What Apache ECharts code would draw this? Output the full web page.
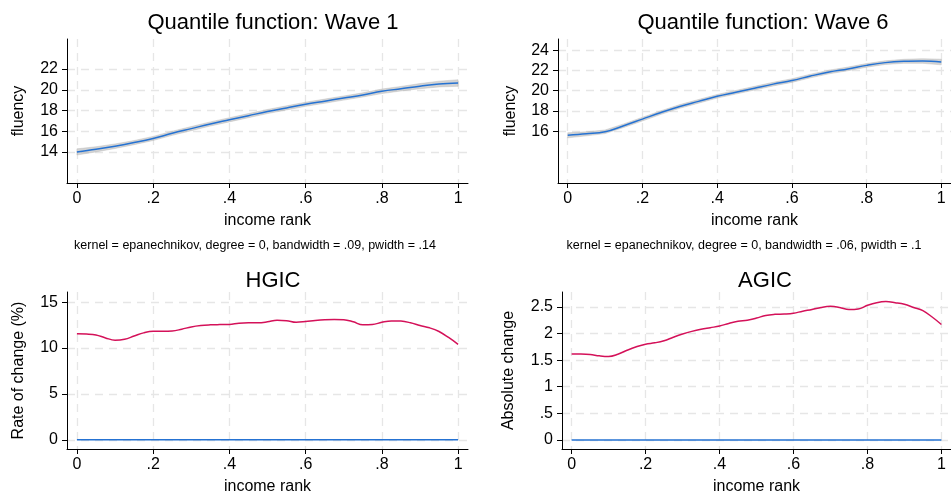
<!DOCTYPE html>
<html>
<head>
<meta charset="utf-8">
<script src="https://cdn.jsdelivr.net/npm/echarts@6/dist/echarts.min.js"></script>
<style>html,body{margin:0;padding:0;background:#fff;}#c{width:951px;height:496px;}</style>
</head>
<body>
<div id="c"></div>
<script>
// ---- data ----
const rankCoarse = [0,0.05,0.1,0.15,0.2,0.25,0.3,0.35,0.4,0.45,0.5,0.55,0.6,0.65,0.7,0.75,0.8,0.85,0.9,0.95,1];
const wave1Fluency = [14.0,14.25,14.55,14.9,15.3,15.8,16.25,16.7,17.1,17.5,17.9,18.25,18.6,18.9,19.2,19.5,19.85,20.1,20.35,20.55,20.65];
const wave1Low  = [13.7,14.0,14.33,14.7,15.1,15.6,16.05,16.5,16.9,17.3,17.7,18.05,18.4,18.7,19.0,19.3,19.63,19.88,20.1,20.27,20.33];
const wave1High = [14.3,14.5,14.77,15.1,15.5,16.0,16.45,16.9,17.3,17.7,18.1,18.45,18.8,19.1,19.4,19.7,20.07,20.32,20.6,20.83,20.97];
const wave6Fluency = [15.6,15.75,15.95,16.55,17.2,17.85,18.45,18.95,19.45,19.85,20.25,20.65,21.0,21.45,21.85,22.15,22.5,22.77,22.9,22.93,22.83];
const wave6Low  = [15.35,15.55,15.77,16.37,17.02,17.67,18.27,18.77,19.27,19.67,20.07,20.47,20.82,21.27,21.67,21.97,22.32,22.59,22.7,22.7,22.55];
const wave6High = [15.85,15.95,16.13,16.73,17.38,18.03,18.63,19.13,19.63,20.03,20.43,20.83,21.18,21.63,22.03,22.33,22.68,22.95,23.1,23.16,23.11];

const rankFine = [0,0.025,0.05,0.075,0.1,0.125,0.15,0.175,0.2,0.225,0.25,0.275,0.3,0.325,0.35,0.375,0.4,0.425,0.45,0.475,0.5,0.525,0.55,0.575,0.6,0.625,0.65,0.675,0.7,0.725,0.75,0.775,0.8,0.825,0.85,0.875,0.9,0.925,0.95,0.975,1];
const hgic = [11.55,11.52,11.42,11.1,10.85,10.95,11.3,11.65,11.82,11.82,11.85,12.05,12.3,12.45,12.52,12.55,12.57,12.7,12.75,12.75,12.85,13.02,12.98,12.8,12.88,13.0,13.08,13.1,13.08,12.85,12.52,12.55,12.8,12.95,12.93,12.75,12.45,12.2,11.8,11.15,10.4];
const agic = [1.617,1.615,1.605,1.58,1.568,1.61,1.685,1.75,1.80,1.825,1.864,1.93,1.99,2.04,2.08,2.11,2.14,2.19,2.23,2.25,2.29,2.34,2.36,2.365,2.38,2.42,2.45,2.49,2.51,2.49,2.45,2.46,2.53,2.58,2.60,2.58,2.55,2.49,2.43,2.31,2.17];
const refX = [0,1];
const refY = [0,0];

const xTicks = [0,0.2,0.4,0.6,0.8,1];
const yTicksW1 = [14,16,18,20,22];
const yTicksW6 = [16,18,20,22,24];
const yTicksHGIC = [0,5,10,15];
const yTicksAGIC = [0,0.5,1,1.5,2,2.5];

const titles = ['Quantile function: Wave 1','Quantile function: Wave 6','HGIC','AGIC'];
const notes = ['kernel = epanechnikov, degree = 0, bandwidth = .09, pwidth = .14','kernel = epanechnikov, degree = 0, bandwidth = .06, pwidth = .1'];

// ---- chart ----
const BLUE = '#2572d2', PINK = '#d41159', FONT = '"Liberation Sans", Arial, Helvetica, sans-serif';
const fmt = v => { let s = String(Math.round(v*1000)/1000); return s.replace(/^0\./,'.'); };
const pairs = (xs, ys) => xs.map((x,i)=>[x, ys[i]]);

function xAx(gi){
  return {type:'value', gridIndex:gi, min:-0.026, max:1.026,
    name:'income rank', nameLocation:'middle', nameGap:30,
    nameTextStyle:{fontSize:16,color:'#000',fontFamily:FONT},
    axisLine:{show:true,onZero:false,lineStyle:{color:'#000',width:1}},
    axisTick:{show:true,length:5,customValues:xTicks,lineStyle:{color:'#000'}},
    axisLabel:{customValues:xTicks,formatter:fmt,fontSize:16,color:'#000',margin:8,fontFamily:FONT},
    splitLine:{show:true,lineStyle:{color:'#e6e6e6',type:[8,6],width:1.3}}};
}
function yAx(gi,min,max,ticks,name,gap){
  return {type:'value', gridIndex:gi, min:min, max:max,
    name:name, nameLocation:'middle', nameGap:gap,
    nameTextStyle:{fontSize:16,color:'#000',fontFamily:FONT},
    axisLine:{show:true,onZero:false,lineStyle:{color:'#000',width:1}},
    axisTick:{show:true,length:5,customValues:ticks,lineStyle:{color:'#000'}},
    axisLabel:{customValues:ticks,formatter:fmt,fontSize:16,color:'#000',margin:9,fontFamily:FONT},
    splitLine:{show:true,lineStyle:{color:'#e6e6e6',type:[8,6],width:1.3}}};
}
function band(gi, low, high){
  return {type:'custom', xAxisIndex:gi, yAxisIndex:gi, silent:true, z:1,
    data: rankCoarse.map((x,i)=>[x, low[i], high[i]]),
    encode:{x:0, y:[1,2]},
    renderItem:(params, api)=>{
      if (params.dataIndex !== 0) return null;
      const up = rankCoarse.map((x,i)=>api.coord([x, high[i]]));
      const lo = rankCoarse.map((x,i)=>api.coord([x, low[i]])).reverse();
      return {type:'polygon', shape:{points:up.concat(lo)}, style:{fill:'rgba(175,175,175,0.55)', stroke:'rgba(175,175,175,0.35)', lineWidth:1}};
    }};
}
function line(gi, xs, ys, color){
  return {type:'line', xAxisIndex:gi, yAxisIndex:gi, data:pairs(xs, ys), symbol:'none', smooth:0.4, lineStyle:{color:color,width:1.5}, z:3};
}

const tStyle = {fontSize:22,fontWeight:'normal',color:'#000',fontFamily:FONT};
const nStyle = {fontSize:12.5,fontWeight:'normal',color:'#000',fontFamily:FONT};
const chart = echarts.init(document.getElementById('c'), null, {renderer:'canvas'});
chart.setOption({
  animation:false,
  backgroundColor:'#fff',
  textStyle:{fontFamily:FONT},
  title:[
    {text:titles[0], left:268, top:7, textAlign:'center', textStyle:tStyle},
    {text:titles[1], left:758, top:7, textAlign:'center', textStyle:tStyle},
    {text:titles[2], left:268, top:265, textAlign:'center', textStyle:tStyle},
    {text:titles[3], left:760, top:265, textAlign:'center', textStyle:tStyle},
    {text:notes[0], left:250, top:234, textAlign:'center', textStyle:nStyle},
    {text:notes[1], left:739, top:234, textAlign:'center', textStyle:nStyle}
  ],
  grid:[
    {left:67, top:39, width:401, height:144},
    {left:558, top:39, width:401, height:144},
    {left:67, top:292, width:401, height:160},
    {left:562, top:292, width:397, height:160}
  ],
  xAxis:[xAx(0),xAx(1),xAx(2),xAx(3)],
  yAxis:[
    yAx(0,11,24.9,yTicksW1,'fluency',40),
    yAx(1,10.9,25.1,yTicksW6,'fluency',39),
    yAx(2,-1,16.1,yTicksHGIC,'Rate of change (%)',40),
    yAx(3,-0.17,2.78,yTicksAGIC,'Absolute change',45)
  ],
  series:[
    band(0, wave1Low, wave1High),
    line(0, rankCoarse, wave1Fluency, BLUE),
    band(1, wave6Low, wave6High),
    line(1, rankCoarse, wave6Fluency, BLUE),
    line(2, refX, refY, BLUE),
    line(2, rankFine, hgic, PINK),
    line(3, refX, refY, BLUE),
    line(3, rankFine, agic, PINK)
  ]
});
</script>
</body>
</html>
